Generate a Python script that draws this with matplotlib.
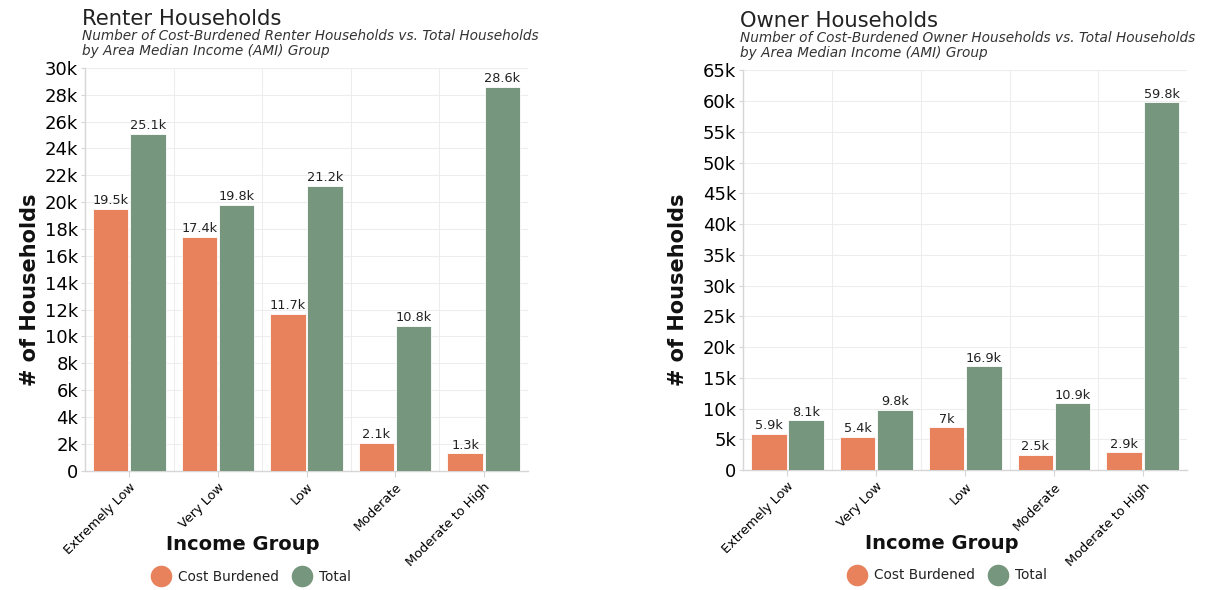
import matplotlib
matplotlib.use("Agg")
import matplotlib.pyplot as plt
import numpy as np
from matplotlib.lines import Line2D
from matplotlib.ticker import FuncFormatter

# Data
groups = ["Extremely Low", "Very Low", "Low", "Moderate", "Moderate to High"]
renter_burdened = [19500, 17400, 11700, 2100, 1300]
renter_total = [25100, 19800, 21200, 10800, 28600]
owner_burdened = [5900, 5400, 7000, 2500, 2900]
owner_total = [8100, 9800, 16900, 10900, 59800]

ORANGE = "#E8825C"
GREEN = "#76967D"
GRID = "#EDEDED"
AXIS = "#D6D6D6"

plt.rcParams["font.family"] = ["DejaVu Sans"]
plt.rcParams["text.color"] = "#222222"


def fmt_k(v):
    if v == 0:
        return "0"
    k = v / 1000
    return f"{k:.0f}k" if abs(k - round(k)) < 1e-9 else f"{k:.1f}k"


def draw(ax, burdened, total, ymax, step, title, subtitle, lab_x, leg_x, ylab_x):
    x = np.arange(len(groups))
    w = 0.40
    off = 0.21
    b1 = ax.bar(x - off, burdened, w, color=ORANGE, edgecolor="white", linewidth=0.6, zorder=3)
    b2 = ax.bar(x + off, total, w, color=GREEN, edgecolor="white", linewidth=0.6, zorder=3)
    for bars, vals in ((b1, burdened), (b2, total)):
        for r, v in zip(bars, vals):
            ax.text(r.get_x() + r.get_width() / 2, v + ymax * 0.004, fmt_k(v),
                    ha="center", va="bottom", fontsize=9.3, color="#222222", zorder=4)

    ax.set_xlim(-0.5, len(groups) - 0.5)
    ax.set_ylim(0, ymax)
    ax.set_yticks(np.arange(0, ymax + 1, step))
    ax.yaxis.set_major_formatter(FuncFormatter(lambda v, p: fmt_k(v)))
    ax.set_xticks(x)
    ax.set_xticklabels(groups, rotation=45, ha="right", rotation_mode="anchor", fontsize=9.3)
    ax.tick_params(axis="y", labelsize=13, length=3, color=AXIS, pad=2)
    ax.tick_params(axis="x", length=4, color=AXIS, pad=3)

    # grid: horizontal at ticks, vertical at category boundaries
    ax.grid(axis="y", color=GRID, linewidth=0.8, zorder=0)
    for b in np.arange(0.5, len(groups), 1):
        ax.axvline(b, color=GRID, linewidth=0.8, zorder=0)
    ax.axhline(ymax, color=GRID, linewidth=0.8, zorder=0)

    for s in ("top", "right"):
        ax.spines[s].set_visible(False)
    for s in ("left", "bottom"):
        ax.spines[s].set_color(AXIS)
        ax.spines[s].set_linewidth(1.0)

    ax.text(ylab_x, 0.45, "# of Households", transform=ax.transAxes, rotation=90,
            fontsize=15, fontweight="bold", ha="center", va="center", color="#111111")
    ax.text(lab_x, -0.184, "Income Group", transform=ax.transAxes,
            fontsize=14, fontweight="bold", ha="center", va="center", color="#111111")

    ax.text(-0.007, 1.107, title, transform=ax.transAxes, fontsize=15.2, ha="left", va="baseline")
    for i, line in enumerate(subtitle):
        ax.text(-0.007, 1.07 - i * 0.038, line, transform=ax.transAxes, fontsize=9.8,
                style="italic", ha="left", va="baseline", color="#333333")

    handles = [
        Line2D([], [], marker="o", linestyle="", markersize=14.5, color=ORANGE, label="Cost Burdened"),
        Line2D([], [], marker="o", linestyle="", markersize=14.5, color=GREEN, label="Total"),
    ]
    ax.legend(handles=handles, loc="center", bbox_to_anchor=(leg_x, -0.263), ncol=2,
              frameon=False, fontsize=9.8, handletextpad=0.25, columnspacing=0.7,
              borderaxespad=0, borderpad=0)


fig = plt.figure(figsize=(12.14, 5.9), dpi=100)
ax1 = fig.add_axes([0.070, 0.202, 0.365, 0.683])
ax2 = fig.add_axes([0.612, 0.203, 0.366, 0.678])

draw(ax1, renter_burdened, renter_total, 30000, 2000, "Renter Households",
     ["Number of Cost-Burdened Renter Households vs. Total Households",
      "by Area Median Income (AMI) Group"], 0.357, 0.37, -0.124)
draw(ax2, owner_burdened, owner_total, 65000, 5000, "Owner Households",
     ["Number of Cost-Burdened Owner Households vs. Total Households",
      "by Area Median Income (AMI) Group"], 0.448, 0.455, -0.146)

fig.savefig("out.png", dpi=100, facecolor="white")
